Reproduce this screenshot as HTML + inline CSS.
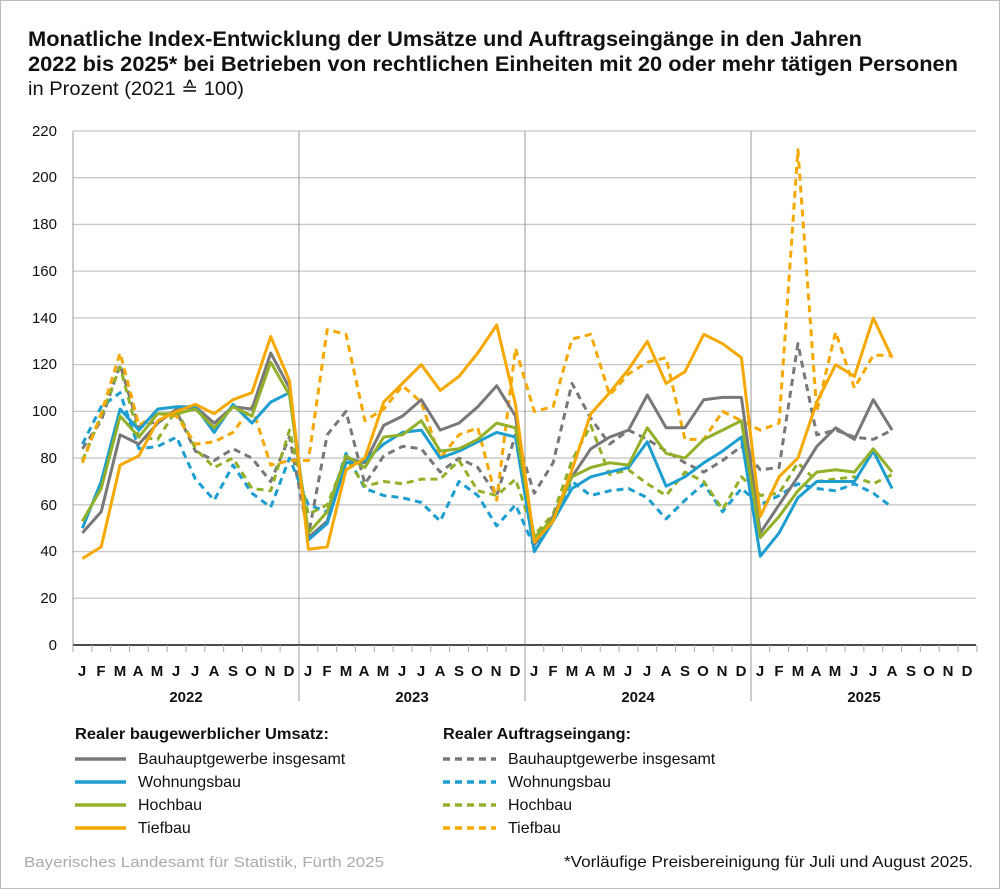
<!DOCTYPE html>
<html><head><meta charset="utf-8"><style>
body{margin:0;background:#fff;}
.w{position:relative;width:998px;height:887px;border:1px solid #bbb;font-family:"Liberation Sans",sans-serif;}
</style></head><body><div class="w">
<svg id="s" width="998" height="887" xmlns="http://www.w3.org/2000/svg" font-family="Liberation Sans, sans-serif">
<text x="27" y="45" font-size="21" font-weight="bold" fill="#111" textLength="834" lengthAdjust="spacingAndGlyphs">Monatliche Index-Entwicklung der Umsätze und Auftragseingänge in den Jahren</text>
<text x="27" y="70" font-size="21" font-weight="bold" fill="#111" textLength="930" lengthAdjust="spacingAndGlyphs">2022 bis 2025* bei Betrieben von rechtlichen Einheiten mit 20 oder mehr tätigen Personen</text>
<text x="27" y="94" font-size="19" fill="#111" textLength="216" lengthAdjust="spacingAndGlyphs">in Prozent (2021 ≙ 100)</text>
<g id="grid"></g>
<g font-size="15" fill="#111" text-anchor="end">
<text x="56" y="649">0</text><text x="56" y="602">20</text><text x="56" y="555">40</text><text x="56" y="509">60</text><text x="56" y="462">80</text><text x="56" y="415">100</text><text x="56" y="368">120</text><text x="56" y="322">140</text><text x="56" y="275">160</text><text x="56" y="228">180</text><text x="56" y="181">200</text><text x="56" y="135">220</text>
</g>
<g font-size="15" font-weight="bold" fill="#111" text-anchor="middle">
<text x="81 100 119 137 156 175 194 213 232 250 269 288" y="675">JFMAMJJASOND</text>
<text x="307 326 345 363 382 401 420 439 458 476 495 514" y="675">JFMAMJJASOND</text>
<text x="533 552 571 589 608 627 646 665 684 702 721 740" y="675">JFMAMJJASOND</text>
<text x="759 778 797 815 834 853 872 891 910 928 947 966" y="675">JFMAMJJASOND</text>
<text x="185" y="701">2022</text><text x="411" y="701">2023</text><text x="637" y="701">2024</text><text x="863" y="701">2025</text>
</g>
<g id="lines" fill="none" stroke-width="3" stroke-linejoin="round"></g>
<g font-size="16" fill="#111">
<text x="74" y="738" font-weight="bold" textLength="254" lengthAdjust="spacingAndGlyphs">Realer baugewerblicher Umsatz:</text>
<text x="442" y="738" font-weight="bold" textLength="188" lengthAdjust="spacingAndGlyphs">Realer Auftragseingang:</text>
<text x="137" y="763">Bauhauptgewerbe insgesamt</text>
<text x="137" y="786">Wohnungsbau</text>
<text x="137" y="809">Hochbau</text>
<text x="137" y="832">Tiefbau</text>
<text x="507" y="763">Bauhauptgewerbe insgesamt</text>
<text x="507" y="786">Wohnungsbau</text>
<text x="507" y="809">Hochbau</text>
<text x="507" y="832">Tiefbau</text>
</g>
<g stroke-width="3.5">
<line x1="74" y1="758" x2="125" y2="758" stroke="#787878"/>
<line x1="74" y1="781" x2="125" y2="781" stroke="#1e9ed0"/>
<line x1="74" y1="804" x2="125" y2="804" stroke="#92b02a"/>
<line x1="74" y1="827" x2="125" y2="827" stroke="#f5a800"/>
<line x1="442" y1="758" x2="495" y2="758" stroke="#787878" stroke-dasharray="7,5"/>
<line x1="442" y1="781" x2="495" y2="781" stroke="#1e9ed0" stroke-dasharray="7,5"/>
<line x1="442" y1="804" x2="495" y2="804" stroke="#92b02a" stroke-dasharray="7,5"/>
<line x1="442" y1="827" x2="495" y2="827" stroke="#f5a800" stroke-dasharray="7,5"/>
</g>
<text x="23" y="866" font-size="15" fill="#aaa" textLength="360" lengthAdjust="spacingAndGlyphs">Bayerisches Landesamt für Statistik, Fürth 2025</text>
<text x="563" y="866" font-size="16" fill="#111" textLength="409" lengthAdjust="spacingAndGlyphs">*Vorläufige Preisbereinigung für Juli und August 2025.</text>
</svg>
<script>
var NS="http://www.w3.org/2000/svg";
function el(p,t,a){var e=document.createElementNS(NS,t);for(var k in a)e.setAttribute(k,a[k]);p.appendChild(e);return e;}
var g=document.getElementById('grid');
for(var i=1;i<=11;i++){var y=644-i*46.73;el(g,'line',{x1:72,x2:975,y1:y,y2:y,stroke:'#c8c8c8','stroke-width':1.3});}
el(g,'line',{x1:72,x2:72,y1:130,y2:644,stroke:'#999'});
[298,524,750].forEach(function(x){el(g,'line',{x1:x,x2:x,y1:130,y2:700,stroke:'#999'});});
el(g,'line',{x1:72,x2:975,y1:644,y2:644,stroke:'#111','stroke-width':1.5});
for(var i=0;i<=48;i++){var x=72+i*18.83;el(g,'line',{x1:x,x2:x,y1:644,y2:651,stroke:'#aaa'});}
var D=[
['#787878',0,[48,57,90,86,95,101,102,95,102,101,125,110,46,53,80,78,94,98,105,92,95,102,111,98,43,55,72,84,89,92,107,93,93,105,106,106,48,60,72,85,93,88,105,92]],
['#1e9ed0',0,[50,70,101,92,101,102,102,91,103,95,104,108,45,52,78,79,86,91,92,80,83,87,91,89,40,53,67,72,74,76,87,68,72,78,83,89,38,48,63,70,70,70,83,67]],
['#92b02a',0,[53,67,98,89,99,99,101,93,102,98,121,107,48,57,81,76,89,90,96,83,84,88,95,93,46,54,72,76,78,77,93,82,80,88,92,96,46,55,66,74,75,74,84,74]],
['#f5a800',0,[37,42,77,81,96,100,103,99,105,108,132,113,41,42,75,80,104,112,120,109,115,125,137,103,44,53,75,99,108,118,130,112,117,133,129,123,55,72,80,104,120,115,140,123]],
['#787878',1,[84,96,120,93,96,100,83,79,84,80,70,89,47,90,100,69,81,85,84,74,80,76,64,90,65,78,112,97,86,92,88,83,78,74,79,85,75,76,129,90,92,89,88,92]],
['#1e9ed0',1,[86,102,108,84,85,89,71,62,77,65,59,80,60,57,82,67,64,63,61,53,70,64,51,60,42,55,70,64,66,67,63,54,62,69,57,67,60,64,69,67,66,69,65,59]],
['#92b02a',1,[79,98,119,89,88,101,84,76,80,67,66,92,56,60,80,68,70,69,71,71,79,66,64,71,47,56,79,94,73,75,69,64,74,70,58,72,64,65,78,70,71,72,69,73]],
['#f5a800',1,[78,99,125,94,99,98,86,87,91,102,77,79,79,135,133,96,101,111,104,80,90,93,62,127,100,102,131,133,107,116,121,123,88,88,100,96,92,95,212,100,134,110,124,124]]
];
var L=document.getElementById('lines');
D.slice(4).concat(D.slice(0,4)).forEach(function(s){
 var pts=s[2].map(function(v,i){return (81.4+i*18.83).toFixed(1)+','+(644-v*2.336).toFixed(1);}).join(' ');
 var a={points:pts,stroke:s[0]};if(s[1])a['stroke-dasharray']='7,5';
 el(L,'polyline',a);
});
</script>
</div></body></html>
